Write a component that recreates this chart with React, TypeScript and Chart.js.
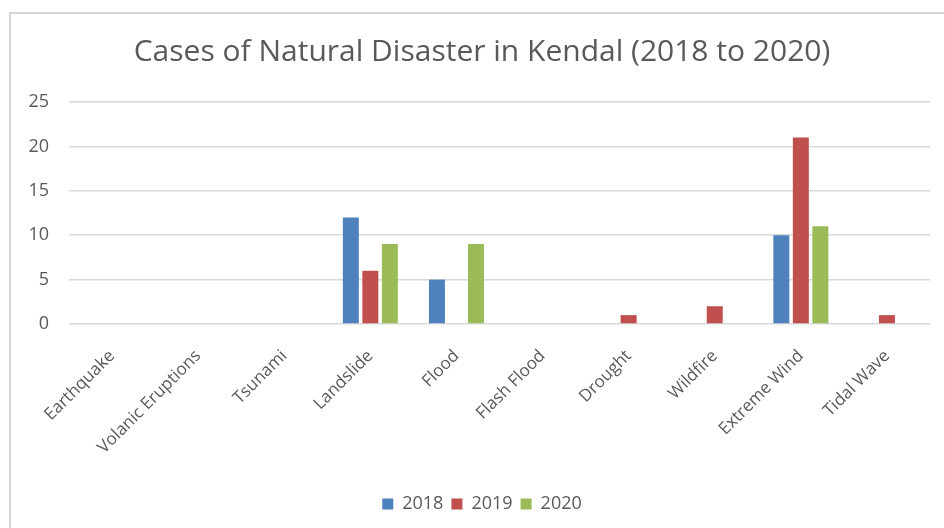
import React, { useEffect, useRef } from "react";
import { Chart, registerables } from "chart.js";

Chart.register(...registerables);

// Disaster categories (label spelling as published)
const categories = [
  "Earthquake",
  "Volanic Eruptions",
  "Tsunami",
  "Landslide",
  "Flood",
  "Flash Flood",
  "Drought",
  "Wildfire",
  "Extreme Wind",
  "Tidal Wave",
];

// Yearly case counts per category
const cases2018 = [0, 0, 0, 12, 5, 0, 0, 0, 10, 0];
const cases2019 = [0, 0, 0, 6, 0, 0, 1, 2, 21, 1];
const cases2020 = [0, 0, 0, 9, 9, 0, 0, 0, 11, 0];

const yTicks = [0, 5, 10, 15, 20, 25];

const FONT = "'Open Sans', 'DejaVu Sans', sans-serif";
const TEXT = "#595959";
const GRID = "#d9d9d9";

// White background plus the light frame around the chart
const framePlugin = {
  id: "frame",
  beforeDraw(chart: Chart) {
    const { ctx, width, height } = chart;
    ctx.save();
    ctx.fillStyle = "#ffffff";
    ctx.fillRect(0, 0, width, height);
    ctx.strokeStyle = "#d6d6d6";
    ctx.lineWidth = 2;
    ctx.beginPath();
    ctx.moveTo(10, height + 10);
    ctx.lineTo(10, 13);
    ctx.lineTo(width + 10, 13);
    ctx.stroke();
    ctx.restore();
  },
};

export default function App() {
  const canvasRef = useRef<HTMLCanvasElement | null>(null);

  useEffect(() => {
    const canvas = canvasRef.current;
    if (!canvas) return;
    const chart = new Chart(canvas, {
      type: "bar",
      data: {
        labels: categories,
        datasets: [
          { label: "2018", data: cases2018, backgroundColor: "#4f81bd" },
          { label: "2019", data: cases2019, backgroundColor: "#c0504d" },
          { label: "2020", data: cases2020, backgroundColor: "#9bbb59" },
        ],
      },
      options: {
        responsive: false,
        animation: false,
        devicePixelRatio: 1,
        layout: { padding: { left: 10, right: 10, top: 12, bottom: 5 } },
        datasets: {
          bar: { categoryPercentage: 0.68, barPercentage: 0.82 },
        },
        plugins: {
          title: {
            display: true,
            text: "Cases of Natural Disaster in Kendal (2018 to 2020)",
            color: TEXT,
            font: { family: FONT, size: 30, weight: "normal" },
            padding: { top: 22, bottom: 32 },
          },
          legend: {
            position: "bottom",
            labels: {
              color: TEXT,
              font: { family: FONT, size: 18 },
              boxWidth: 11,
              boxHeight: 11,
              padding: 8,
            },
          },
          tooltip: { enabled: false },
        },
        scales: {
          x: {
            grid: { display: false },
            border: { display: false },
            ticks: {
              color: TEXT,
              font: { family: FONT, size: 17 },
              minRotation: 45,
              maxRotation: 45,
              autoSkip: false,
              padding: 14,
            },
            afterFit(scale: any) {
              scale.height = 163;
            },
          },
          y: {
            min: 0,
            max: 25,
            afterBuildTicks(scale: any) {
              scale.ticks = yTicks.map((v) => ({ value: v }));
            },
            grid: { color: GRID, lineWidth: 1.5, drawTicks: false },
            border: { display: false },
            ticks: {
              color: TEXT,
              font: { family: FONT, size: 18 },
              padding: 20,
            },
            afterFit(scale: any) {
              scale.width = 59;
            },
          },
          yRight: {
            position: "right",
            display: true,
            grid: { display: false },
            border: { display: false },
            ticks: { display: false },
            afterFit(scale: any) {
              scale.width = 24;
            },
          },
        },
      },
      plugins: [framePlugin],
    });
    return () => chart.destroy();
  }, []);

  return (
    <div
      style={{
        position: "fixed",
        left: 0,
        top: 0,
        width: 944,
        height: 528,
        overflow: "hidden",
        background: "#fff",
      }}
    >
      <canvas ref={canvasRef} width={964} height={528} style={{ display: "block" }} />
    </div>
  );
}
